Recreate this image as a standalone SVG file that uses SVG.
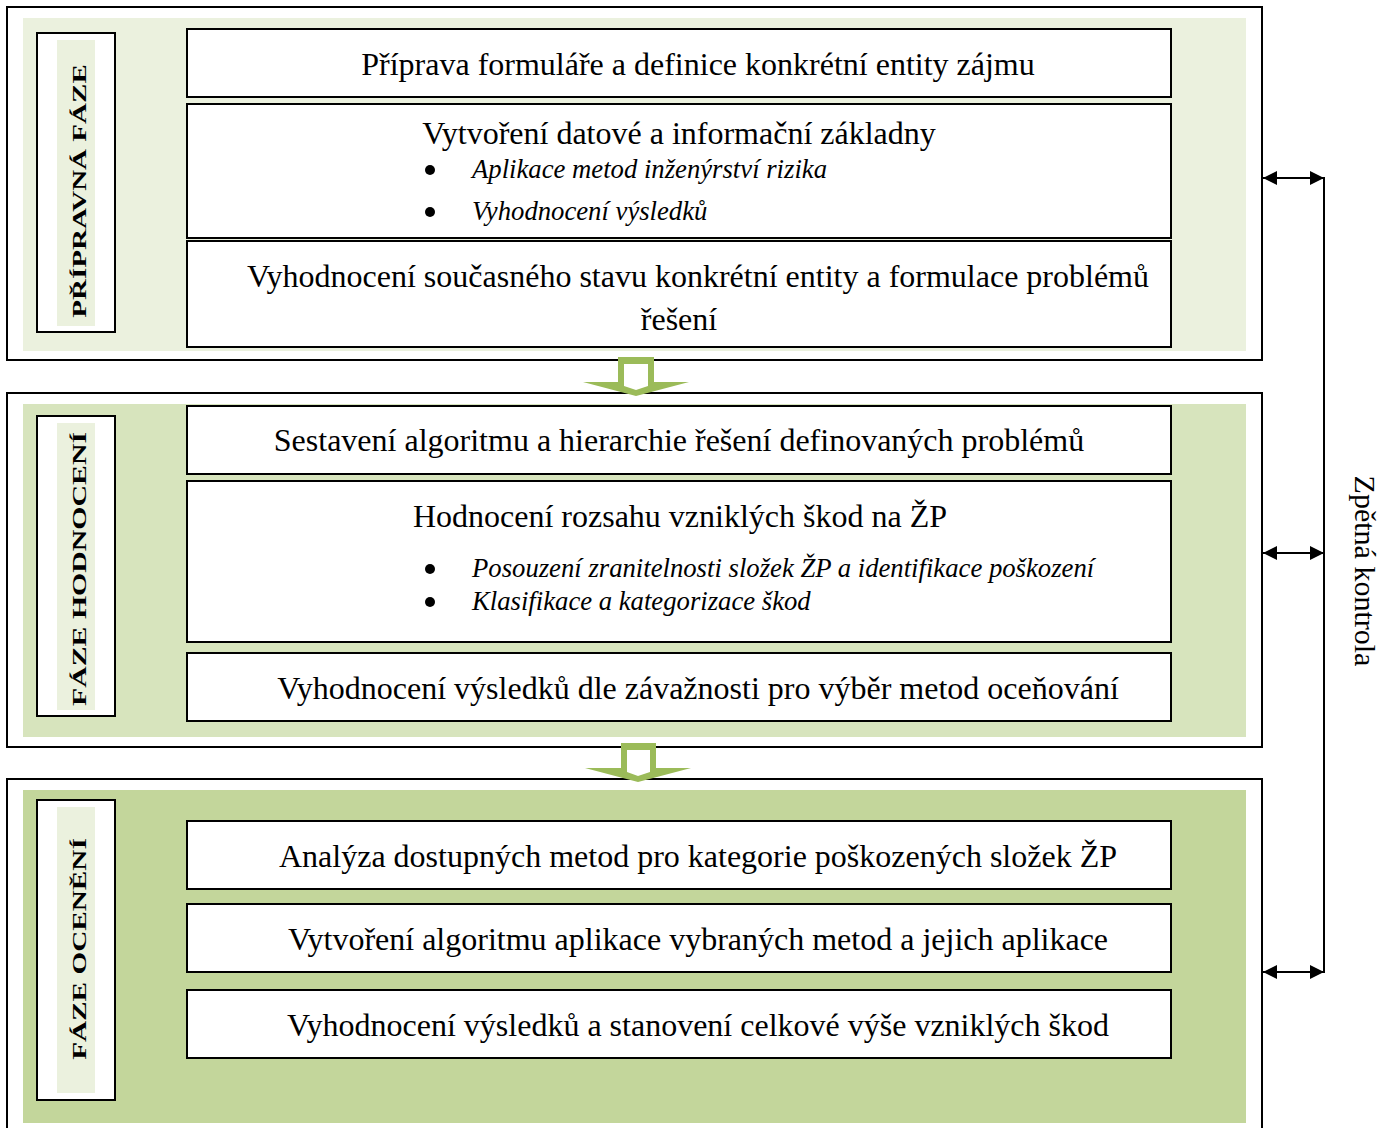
<svg xmlns="http://www.w3.org/2000/svg" width="1389" height="1128" viewBox="0 0 1389 1128">
  <defs>
    <style>
      .frame { fill: #ffffff; stroke: #000000; stroke-width: 2; }
      .p1 { fill: #ebf1de; }
      .p2 { fill: #d7e4bd; }
      .p3 { fill: #c3d69b; }
      .strip { fill: #ebf1de; }
      .box { fill: #ffffff; stroke: #000000; stroke-width: 2; }
      .t { font-family: "Liberation Serif", "Times New Roman", serif; font-size: 32px; fill: #000000; text-anchor: middle; }
      .side { font-family: "Liberation Serif", "Times New Roman", serif; font-size: 30px; fill: #000000; text-anchor: middle; }
      .it { font-family: "Liberation Serif", "Times New Roman", serif; font-size: 26.7px; font-style: italic; fill: #000000; }
      .lbl { font-family: "Liberation Serif", "Times New Roman", serif; font-size: 19.5px; font-weight: bold; fill: #000000; text-anchor: middle; }
      .dot { fill: #000000; }
      .flow { fill: #9bbb59; }
      .hole { fill: #ffffff; }
      .link { fill: none; stroke: #000000; stroke-width: 2; }
    </style>
    <marker id="tip" viewBox="0 0 14 14" refX="14" refY="7" markerWidth="14" markerHeight="14" markerUnits="userSpaceOnUse" orient="auto-start-reverse">
      <path d="M0,0 L14,7 L0,14 z" fill="#000000"/>
    </marker>
  </defs>

  <!-- Phase 1: preparation -->
  <g id="phase-preparation">
    <rect class="frame" x="7" y="7" width="1255" height="353"/>
    <rect class="p1" x="23" y="18" width="1223" height="333"/>
    <g id="label-preparation">
      <rect class="box" x="37" y="33" width="78" height="299"/>
      <rect class="strip" x="57" y="40" width="38" height="286"/>
      <text class="lbl" transform="translate(86,191) rotate(-90) scale(1.49,1)">PŘÍPRAVNÁ FÁZE</text>
    </g>
    <g id="node-form">
      <rect class="box" x="187" y="29" width="984" height="68"/>
      <text class="t" x="698" y="75">Příprava formuláře a definice konkrétní entity zájmu</text>
    </g>
    <g id="node-database">
      <rect class="box" x="187" y="104" width="984" height="134"/>
      <text class="t" x="679" y="144">Vytvoření datové a informační základny</text>
      <circle class="dot" cx="430" cy="170" r="5"/>
      <text class="it" x="472" y="178">Aplikace metod inženýrství rizika</text>
      <circle class="dot" cx="430" cy="212" r="5"/>
      <text class="it" x="472" y="220">Vyhodnocení výsledků</text>
    </g>
    <g id="node-current-state">
      <rect class="box" x="187" y="241" width="984" height="106"/>
      <text class="t" x="698" y="287">Vyhodnocení současného stavu konkrétní entity a formulace problémů</text>
      <text class="t" x="679" y="330">řešení</text>
    </g>
  </g>

  <!-- Phase 2: assessment -->
  <g id="phase-assessment">
    <rect class="frame" x="7" y="393" width="1255" height="354"/>
    <rect class="p2" x="23" y="404" width="1223" height="333"/>
    <g id="label-assessment">
      <rect class="box" x="37" y="416" width="78" height="300"/>
      <rect class="strip" x="57" y="423" width="38" height="287"/>
      <text class="lbl" transform="translate(86,569) rotate(-90) scale(1.53,1)">FÁZE HODNOCENÍ</text>
    </g>
    <g id="node-algorithm">
      <rect class="box" x="187" y="406" width="984" height="68"/>
      <text class="t" x="679" y="451">Sestavení algoritmu a hierarchie řešení definovaných problémů</text>
    </g>
    <g id="node-damage-extent">
      <rect class="box" x="187" y="481" width="984" height="161"/>
      <text class="t" x="680" y="527">Hodnocení rozsahu vzniklých škod na ŽP</text>
      <circle class="dot" cx="430" cy="569" r="5"/>
      <text class="it" x="472" y="577">Posouzení zranitelnosti složek ŽP a identifikace poškození</text>
      <circle class="dot" cx="430" cy="602" r="5"/>
      <text class="it" x="472" y="610">Klasifikace a kategorizace škod</text>
    </g>
    <g id="node-severity">
      <rect class="box" x="187" y="653" width="984" height="68"/>
      <text class="t" x="698" y="699">Vyhodnocení výsledků dle závažnosti pro výběr metod oceňování</text>
    </g>
  </g>

  <!-- Phase 3: valuation -->
  <g id="phase-valuation">
    <rect class="frame" x="7" y="779" width="1255" height="370"/>
    <rect class="p3" x="23" y="790" width="1223" height="333"/>
    <g id="label-valuation">
      <rect class="box" x="37" y="800" width="78" height="300"/>
      <rect class="strip" x="57" y="807" width="38" height="286"/>
      <text class="lbl" transform="translate(86,949) rotate(-90) scale(1.5,1)">FÁZE OCENĚNÍ</text>
    </g>
    <g id="node-methods">
      <rect class="box" x="187" y="821" width="984" height="68"/>
      <text class="t" x="698" y="867">Analýza dostupných metod pro kategorie poškozených složek ŽP</text>
    </g>
    <g id="node-application">
      <rect class="box" x="187" y="904" width="984" height="68"/>
      <text class="t" x="698" y="950">Vytvoření algoritmu aplikace vybraných metod a jejich aplikace</text>
    </g>
    <g id="node-total">
      <rect class="box" x="187" y="990" width="984" height="68"/>
      <text class="t" x="698" y="1036">Vyhodnocení výsledků a stanovení celkové výše vzniklých škod</text>
    </g>
  </g>

  <!-- Feedback label -->
  <g id="feedback">
    <text class="side" transform="translate(1355,571) rotate(90)">Zpětná kontrola</text>
  </g>

  <!-- Connectors: phase flow arrows and feedback loop -->
  <g id="connectors">
    <polygon class="flow" points="618,357 654,357 654,382 689,382 636,396 583,382 618,382"/>
    <polygon class="hole" points="624,364 648,364 648,386 636,390 624,386"/>
    <polygon class="flow" points="621,743 656,743 656,768 691,768 638,782 585,768 621,768"/>
    <polygon class="hole" points="627,750 650,750 650,772 638,776 627,772"/>
    <line class="link" x1="1324" y1="177" x2="1324" y2="973"/>
    <line class="link" x1="1263" y1="178" x2="1324" y2="178" marker-start="url(#tip)" marker-end="url(#tip)"/>
    <line class="link" x1="1263" y1="553" x2="1324" y2="553" marker-start="url(#tip)" marker-end="url(#tip)"/>
    <line class="link" x1="1263" y1="972" x2="1324" y2="972" marker-start="url(#tip)" marker-end="url(#tip)"/>
  </g>
</svg>
